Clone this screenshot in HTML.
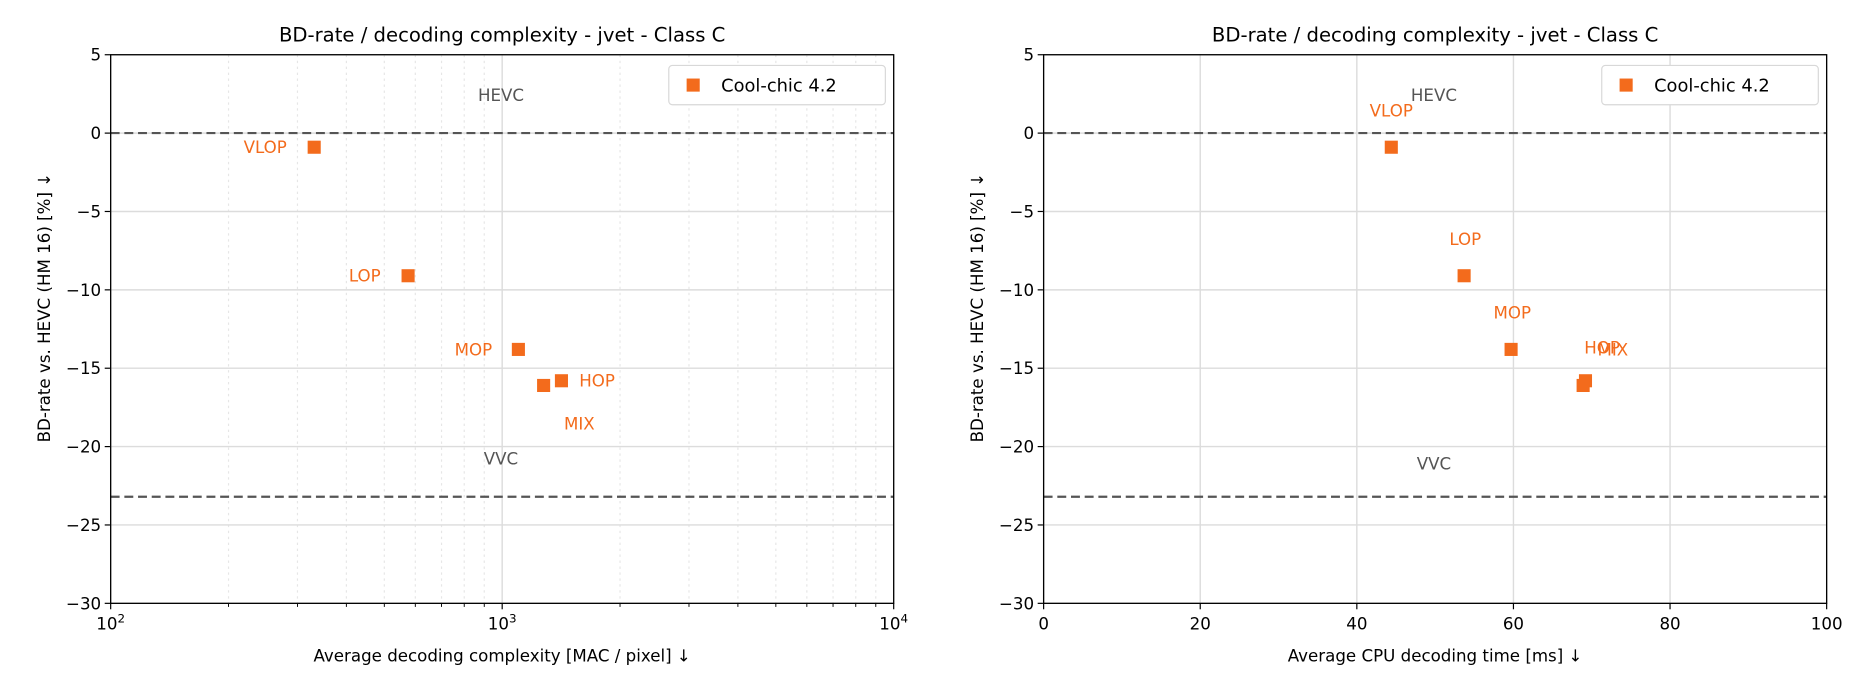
<!DOCTYPE html>
<html><head><meta charset="utf-8">
<style>
html,body{margin:0;padding:0;background:#fff;}
svg{display:block;font-family:"DejaVu Sans","Liberation Sans",sans-serif;}
</style></head>
<body>
<svg id="c" width="1866" height="700"><g id="root" transform="scale(1.19)"></g></svg>
<script>
const labels = ["VLOP","LOP","MOP","HOP","MIX"];
const macValues = [331, 575, 1100, 1417, 1276];
const cpuValues = [44.4, 53.7, 59.7, 69.2, 68.9];
const bdValues = [-0.9, -9.1, -13.8, -15.8, -16.1];
const yTicks = [5, 0, -5, -10, -15, -20, -25, -30];
const xTicksCpu = [0, 20, 40, 60, 80, 100];
const xTicksLog = [2, 3, 4];
const hevcRef = 0;
const vvcRef = -23.2;

const NS = "http://www.w3.org/2000/svg";
const svg = document.getElementById('root');
function mk(tag, attrs, parent, text){
  const e = document.createElementNS(NS, tag);
  for (const k in attrs) e.setAttribute(k, attrs[k]);
  if (text !== undefined) e.textContent = text;
  (parent || svg).appendChild(e);
  return e;
}
const orange = "#f36b1c";
const leftOffsets = [
  {dx:-23, dy:5, anchor:"end"},
  {dx:-23, dy:5, anchor:"end"},
  {dx:-22, dy:5, anchor:"end"},
  {dx:15, dy:5, anchor:"start"},
  {dx:30, dy:37, anchor:"middle"}
];
const rightOffsets = [
  {dx:0, dy:-26, anchor:"middle"},
  {dx:1, dy:-26, anchor:"middle"},
  {dx:1, dy:-26, anchor:"middle"},
  {dx:14, dy:-23, anchor:"middle"},
  {dx:25, dy:-25, anchor:"middle"}
];

function panel(opts){
  const L = opts.left, R = L + 658, T = 46, B = 507;
  const g = mk('g', {});
  
  
  const yS = v => T + (5 - v) / 35 * (B - T);
  const xS = opts.xS(L, R);
  if (opts.log) {
    for (let d = 2; d < 4; d++) for (let m = 2; m <= 9; m++) {
      const x = xS(m * Math.pow(10, d));
      const l = mk('line', {x1:x, x2:x, y1:T, y2:B, stroke:"#e6e6e6", "stroke-width":1, "stroke-dasharray":"2,3"}, g);
      
      
      const t = mk('line', {x1:x, x2:x, y1:B, y2:B+3, stroke:"#000", "stroke-width":0.8}, g);
      
      
    }
  }
  yTicks.forEach(v => {
    const y = yS(v);
    const gl = mk('line', {x1:L, x2:R, y1:y, y2:y, stroke:"#dcdcdc", "stroke-width":1.2}, g);
    
    
    mk('line', {x1:L-5, x2:L, y1:y, y2:y, stroke:"#000", "stroke-width":1}, g);
    const t = mk('text', {x:L-8, y:y+5, "text-anchor":"end", "font-size":14, fill:"#000"}, g, v < 0 ? "\u2212" + (-v) : String(v));
    
    
  });
  opts.xTicks.forEach(v => {
    const x = xS(opts.log ? Math.pow(10, v) : v);
    const gl = mk('line', {x1:x, x2:x, y1:T, y2:B, stroke:"#dcdcdc", "stroke-width":1.2}, g);
    
    
    mk('line', {x1:x, x2:x, y1:B, y2:B+5, stroke:"#000", "stroke-width":1}, g);
    const t = mk('text', {x:x, y:B+22, "text-anchor":"middle", "font-size":14, fill:"#000"}, g);
    
    
    if (opts.log) {
      mk('tspan', {}, t, "10");
      mk('tspan', {dy:-6, "font-size":10}, t, String(v));
    } else t.textContent = String(v);
  });
  [[hevcRef,'hevc-reference-line'],[vvcRef,'vvc-reference-line']].forEach(([v,n]) => {
    const l = mk('line', {x1:L, x2:R, y1:yS(v), y2:yS(v), stroke:"#555", "stroke-width":1.8, "stroke-dasharray":"7.5,4"}, g);
    
    
  });
  const h = mk('text', {x:opts.refX, y:yS(hevcRef)-27, "text-anchor":"middle", "font-size":14, fill:"#555"}, g, "HEVC");
  
  
  const vv = mk('text', {x:opts.refX, y:yS(vvcRef)+opts.vvcDy, "text-anchor":"middle", "font-size":14, fill:"#555"}, g, "VVC");
  
  
  labels.forEach((lab, i) => {
    const x = xS(opts.xVals[i]), y = yS(bdValues[i]);
    const r = mk('rect', {x:x-5.5, y:y-5.5, width:11, height:11, fill:orange}, g);
    
    
    const o = opts.offsets[i];
    const t = mk('text', {x:x+o.dx, y:y+o.dy, "text-anchor":o.anchor, "font-size":14, fill:orange}, g, lab);
    
    
  });
  const f = mk('rect', {x:L, y:T, width:R-L, height:B-T, fill:"none", stroke:"#000", "stroke-width":1.1}, g);
  
  
  const ti = mk('text', {x:(L+R)/2, y:35, "text-anchor":"middle", "font-size":16.5, fill:"#000"}, g, "BD-rate / decoding complexity - jvet - Class C");
  
  
  const xt = mk('text', {x:(L+R)/2, y:556, "text-anchor":"middle", "font-size":14, fill:"#000"}, g, opts.xTitle);
  
  
  const yt = mk('text', {x:0, y:0, "text-anchor":"middle", "font-size":14, fill:"#000", transform:`translate(${L-51},${(T+B)/2-18}) rotate(-90)`}, g, "BD-rate vs. HEVC (HM 16) [%]  \u2193");
  
  
  const lg = mk('g', {}, g);
  
  
  mk('rect', {x:R-189, y:T+9, width:182, height:33, rx:3, fill:"#fff", stroke:"#d8d8d8", "stroke-width":1}, lg);
  const lm = mk('rect', {x:R-174, y:T+20, width:11, height:11, fill:orange}, lg);
  
  
  const lt = mk('text', {x:R-145, y:T+31, "font-size":15, fill:"#000"}, lg, "Cool-chic 4.2");
  
  
}
panel({name:'left-panel-mac', left:93, log:true, xTicks:xTicksLog, xVals:macValues,
  xS:(L,R)=> v => L + (Math.log10(v) - 2) / 2 * (R - L),
  refX:421, vvcDy:-27, offsets:leftOffsets,
  xTitle:"Average decoding complexity [MAC / pixel]  \u2193"});
panel({name:'right-panel-cpu', left:877, log:false, xTicks:xTicksCpu, xVals:cpuValues,
  xS:(L,R)=> v => L + v / 100 * (R - L),
  refX:1205, vvcDy:-23, offsets:rightOffsets,
  xTitle:"Average CPU decoding time [ms]  \u2193"});
</script>
</body></html>
